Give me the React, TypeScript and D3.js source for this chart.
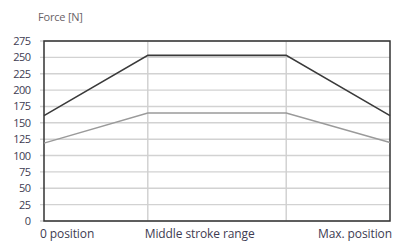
import React from "react";
import * as d3 from "d3";

const strokePos = [0, 30, 70, 100];
const forceHigh = [161, 253, 253, 161];
const forceLow = [119, 165, 165, 120];
const yTicks = [0, 25, 50, 75, 100, 125, 150, 175, 200, 225, 250, 275];
const xLabels = ["0 position", "Middle stroke range", "Max. position"];
const xLabelPos = [0, 45, 100];
const xLabelAnchor = ["start", "middle", "end"];
const vGrid = [30, 70];

export default function App() {
  const W = 396, H = 244;
  const m = { left: 44, right: 6, top: 41, bottom: 23 };
  const x = d3.scaleLinear().domain([0, 100]).range([m.left, W - m.right]);
  const y = d3.scaleLinear().domain([0, 275]).range([H - m.bottom, m.top]);
  const line = d3.line<number>().x((_, i) => x(strokePos[i])).y((d) => y(d));
  const font = "'Open Sans', 'Liberation Sans', sans-serif";
  const txt = "#3e3c52";
  return (
    <svg width={W} height={H} style={{ position: "absolute", left: 0, top: 0, background: "#fff" }} fontFamily={font}>
      <text x={38} y={21} fontSize={11} fill="#6a6266" letterSpacing={-0.2}>Force [N]</text>
      {yTicks.map((t) => (
        <g key={t}>
          <line x1={m.left - 4} x2={W - m.right} y1={y(t)} y2={y(t)} stroke="#d2d2d2" strokeWidth={1.4} />
          <text x={30.5} y={y(t) + 4} fontSize={11} textAnchor="end" fill={txt} letterSpacing={-0.5}>{t}</text>
        </g>
      ))}
      {vGrid.map((v) => (
        <line key={v} x1={x(v)} x2={x(v)} y1={m.top} y2={H - m.bottom} stroke="#cfcfcf" strokeWidth={1.4} />
      ))}
      <rect x={m.left} y={m.top} width={W - m.left - m.right} height={H - m.top - m.bottom} fill="none" stroke="#333" strokeWidth={1.5} />
      <path d={line(forceLow) || ""} fill="none" stroke="#9a9a9a" strokeWidth={1.4} />
      <path d={line(forceHigh) || ""} fill="none" stroke="#3a3a3a" strokeWidth={1.6} />
      {xLabels.map((l, i) => (
        <text key={l} x={x(xLabelPos[i]) + (i === 0 ? -4 : i === 2 ? 2 : 0)} y={238} fontSize={12} textAnchor={xLabelAnchor[i]} fill={txt} letterSpacing={-0.1}>{l}</text>
      ))}
    </svg>
  );
}
